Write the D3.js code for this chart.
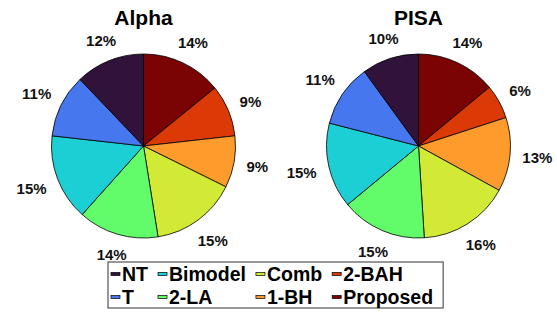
<!DOCTYPE html>
<html>
<head>
<meta charset="utf-8">
<script src="https://cdn.jsdelivr.net/npm/d3@7"></script>
<style>
  html, body { margin: 0; padding: 0; background: #fff; }
  svg { display: block; font-family: "Liberation Sans", Arial, sans-serif; font-weight: bold; }
</style>
</head>
<body>
<div id="chart"></div>
<script>
// categories in legend order (NT first); pies are drawn clockwise starting with "Proposed"
const categories = ['NT', 'T', 'Bimodel', '2-LA', 'Comb', '1-BH', '2-BAH', 'Proposed'];
const colors = ['#30123b', '#4777ef', '#1bcfd4', '#62fc6b', '#d2e935', '#fe9b2d', '#db3a07', '#7a0403'];
const alphaValues = [12, 11, 15, 14, 15, 9, 9, 14];
const pisaValues = [10, 11, 15, 15, 16, 13, 6, 14];
const titles = ['Alpha', 'PISA'];

const W = 557, H = 312;
const svg = d3.select('#chart').append('svg')
  .attr('width', W).attr('height', H);

const radius = 92;
const centersX = d3.scalePoint().domain(titles).range([143.5, 418.5]);
const cy = 146;

const pie = d3.pie().sort(null).value(d => d.value);
const arc = d3.arc().innerRadius(0).outerRadius(radius);

function drawPie(title, values) {
  const data = categories.map((c, i) => ({ cat: c, value: values[i], color: colors[i] })).reverse();
  const total = d3.sum(values);
  const g = svg.append('g')
    .attr('transform', `translate(${centersX(title)},${cy})`);

  g.selectAll('path.slice')
    .data(pie(data))
    .enter().append('path')
    .attr('class', 'slice')
    .attr('d', arc)
    .attr('fill', d => d.data.color)
    .attr('stroke', '#000')
    .attr('stroke-width', 0.8);

  // percentage labels outside the pie, pushed out by half the text box
  g.selectAll('text.pct')
    .data(pie(data))
    .enter().append('text')
    .attr('class', 'pct')
    .attr('text-anchor', 'middle')
    .attr('dominant-baseline', 'central')
    .attr('font-size', 15)
    .attr('fill', '#111')
    .text(d => Math.round(d.data.value / total * 100) + '%')
    .each(function (d) {
      const a = (d.startAngle + d.endAngle) / 2;
      const hw = this.getComputedTextLength() / 2;
      const lr = radius * 1.13 + hw * Math.abs(Math.sin(a)) + 5 * Math.abs(Math.cos(a));
      d3.select(this)
        .attr('x', lr * Math.sin(a))
        .attr('y', -lr * Math.cos(a));
    });

  svg.append('text')
    .attr('x', centersX(title))
    .attr('y', 25)
    .attr('text-anchor', 'middle')
    .attr('font-size', 21)
    .attr('fill', '#000')
    .text(title);
}

drawPie('Alpha', alphaValues);
drawPie('PISA', pisaValues);

// legend: two rows, four columns, column-major
const legend = svg.append('g');
const lx = 108, ly = 262, rowH = 23;
const box = legend.append('rect')
  .attr('x', lx).attr('y', ly)
  .attr('height', 46)
  .attr('fill', '#fff')
  .attr('stroke', '#333')
  .attr('stroke-width', 1);

let colX = lx + 3;
for (let c = 0; c < 4; c++) {
  let maxW = 0;
  for (let r = 0; r < 2; r++) {
    const i = c * 2 + r;
    const y = ly + 12 + r * rowH;
    legend.append('rect')
      .attr('x', colX).attr('y', y - 1.5)
      .attr('width', 9).attr('height', 3)
      .attr('fill', colors[i])
      .attr('stroke', '#000')
      .attr('stroke-width', 0.7);
    const t = legend.append('text')
      .attr('x', colX + 11)
      .attr('y', y + 7)
      .attr('font-size', 19.5)
      .attr('fill', '#000')
      .text(categories[i]);
    maxW = Math.max(maxW, t.node().getComputedTextLength());
  }
  colX += 11 + maxW + 10;
}
box.attr('width', colX - lx);
</script>
</body>
</html>
